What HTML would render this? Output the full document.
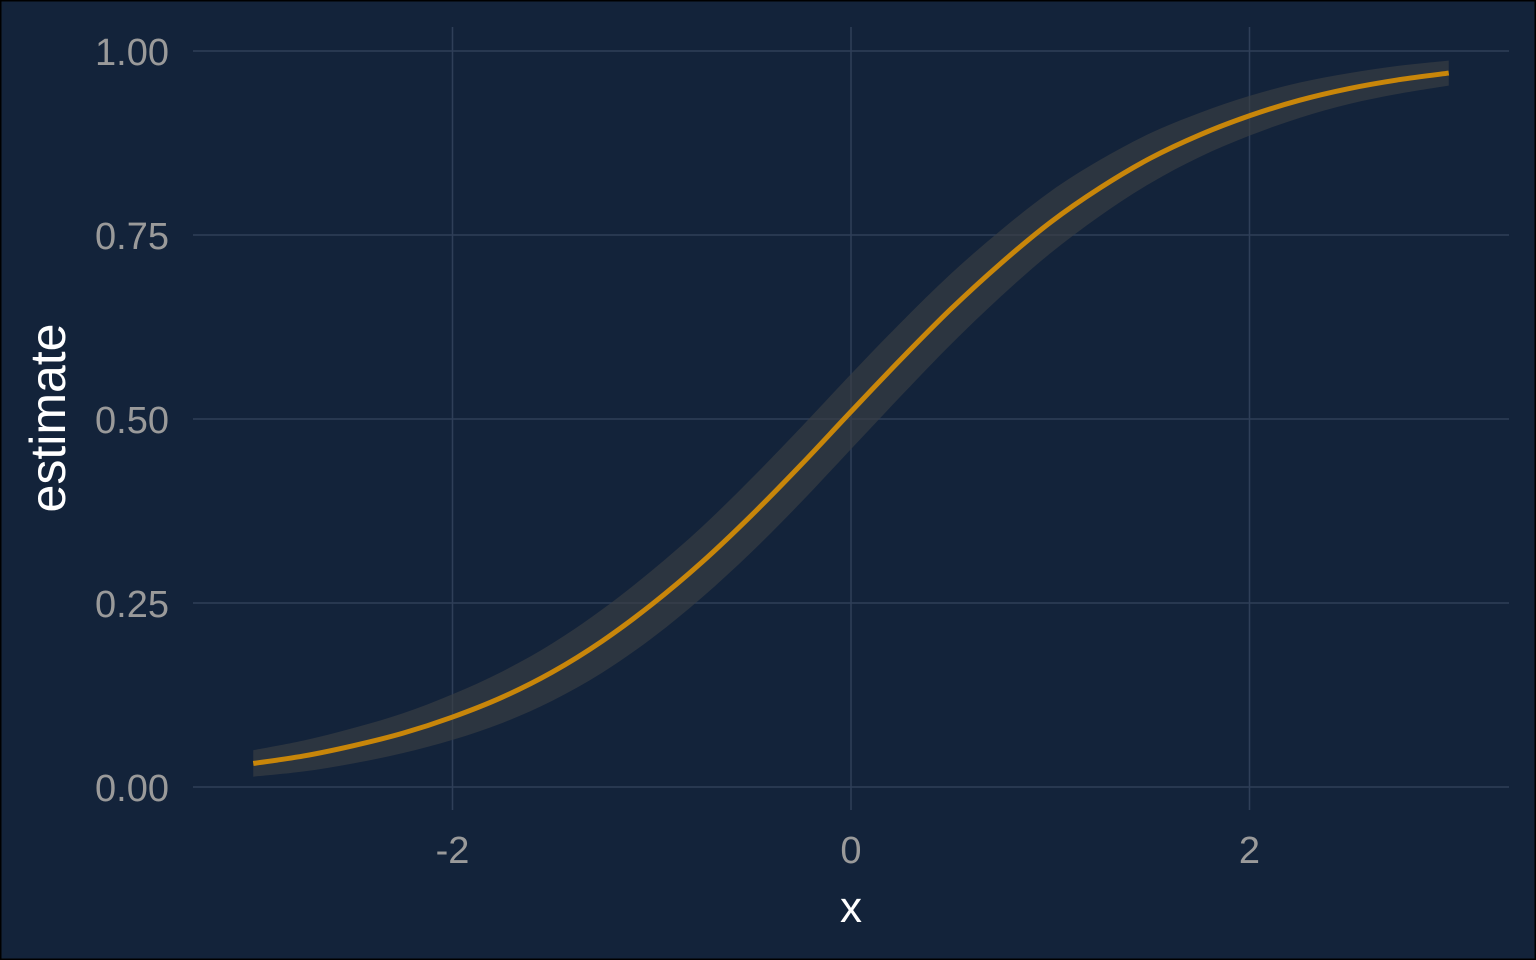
<!DOCTYPE html>
<html><head><meta charset="utf-8"><style>
html,body{margin:0;padding:0;background:#13233a;}
svg{display:block;font-family:"Liberation Sans",sans-serif;}
</style></head><body>
<svg id="chart" width="1536" height="960" viewBox="0 0 1536 960">
<rect x="0.5" y="0.5" width="1535" height="959" fill="#13233a" stroke="#000" stroke-width="2"/>
<g id="grid"></g>
<g id="marks"></g>
<g id="axes"></g>
<text x="851" y="922" text-anchor="middle" font-size="44" fill="#ffffff">x</text>
<text transform="translate(65,418) rotate(-90)" text-anchor="middle" font-size="50" fill="#ffffff">estimate</text>
</svg>
<script>
const xs = [-3,-2.75,-2.5,-2.25,-2,-1.75,-1.5,-1.25,-1,-0.75,-0.5,-0.25,0,0.25,0.5,0.75,1,1.25,1.5,1.75,2,2.25,2.5,2.75,3];
const est = [0.032,0.042,0.056,0.073,0.095,0.122,0.156,0.198,0.248,0.305,0.369,0.438,0.510,0.581,0.649,0.711,0.767,0.814,0.854,0.886,0.912,0.933,0.949,0.961,0.970];
const halfWidth = [0.018,0.021,0.024,0.027,0.031,0.035,0.039,0.043,0.046,0.048,0.050,0.051,0.051,0.050,0.048,0.045,0.042,0.038,0.034,0.030,0.027,0.024,0.021,0.019,0.017];
const xTicks = [-2,0,2];
const xTickLabels = ["-2","0","2"];
const yTicks = [0,0.25,0.5,0.75,1];
const yTickLabels = ["0.00","0.25","0.50","0.75","1.00"];

const NS="http://www.w3.org/2000/svg";
const X = v => 851 + v*199.25;
const Y = v => 787 - v*736;
const grid=document.getElementById('grid'), marks=document.getElementById('marks'), axes=document.getElementById('axes');
function mk(tag, attrs, parent){const e=document.createElementNS(NS,tag);for(const k in attrs)e.setAttribute(k,attrs[k]);parent.appendChild(e);return e;}

yTicks.forEach((t,i)=>{
  const l=mk('line',{x1:193,x2:1509,y1:Y(t),y2:Y(t),stroke:'#2f3f58','stroke-width':1.5},grid);
  
  
  const tx=mk('text',{x:169,y:Y(t)+14,'text-anchor':'end','font-size':38,fill:'#9a9a9a'},axes);
  tx.textContent=yTickLabels[i];
  
  
});
xTicks.forEach((t,i)=>{
  const l=mk('line',{x1:X(t),x2:X(t),y1:27,y2:810,stroke:'#2f3f58','stroke-width':1.5},grid);
  
  
  const tx=mk('text',{x:X(t),y:863,'text-anchor':'middle','font-size':38,fill:'#9a9a9a'},axes);
  tx.textContent=xTickLabels[i];
  
  
});

function smoothSeg(pts){let d='';
  for(let i=0;i<pts.length-1;i++){const p0=pts[i-1]||pts[i],p1=pts[i],p2=pts[i+1],p3=pts[i+2]||p2;
    d+=' C'+(p1[0]+(p2[0]-p0[0])/6)+','+(p1[1]+(p2[1]-p0[1])/6)+' '+(p2[0]-(p3[0]-p1[0])/6)+','+(p2[1]-(p3[1]-p1[1])/6)+' '+p2[0]+','+p2[1];}
  return d;}
const upPts=xs.map((x,i)=>[X(x),Y(est[i]+halfWidth[i])]);
const loPts=xs.map((x,i)=>[X(x),Y(est[i]-halfWidth[i])]).reverse();
const ribD='M'+upPts[0][0]+','+upPts[0][1]+smoothSeg(upPts)+' L'+loPts[0][0]+','+loPts[0][1]+smoothSeg(loPts)+' Z';
const rib=mk('path',{d:ribD,fill:'#3a3f44','fill-opacity':0.65},marks);



const lnPts=xs.map((x,i)=>[X(x),Y(est[i])]);
const ln=mk('path',{d:'M'+lnPts[0][0]+','+lnPts[0][1]+smoothSeg(lnPts),fill:'none',stroke:'#c8860a','stroke-width':5},marks);


</script>
</body></html>
